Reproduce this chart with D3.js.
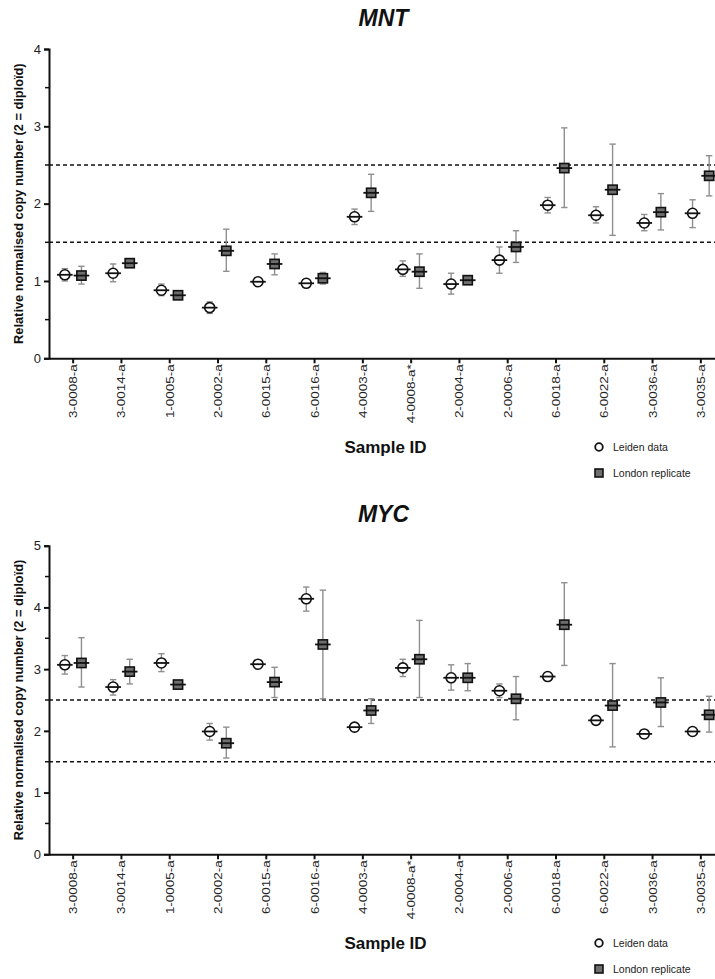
<!DOCTYPE html>
<html>
<head>
<meta charset="utf-8">
<script src="https://cdn.jsdelivr.net/npm/d3@7"></script>
<style>
  html, body { margin: 0; padding: 0; background: #fff; }
  svg { display: block; font-family: "Liberation Sans", Arial, sans-serif; }
</style>
</head>
<body>
<svg id="chart" width="715" height="979"></svg>
<script>
// ---------- DATA ----------
const categories = ["3-0008-a","3-0014-a","1-0005-a","2-0002-a","6-0015-a","6-0016-a","4-0003-a","4-0008-a*","2-0004-a","2-0006-a","6-0018-a","6-0022-a","3-0036-a","3-0035-a"];

// MNT
const mntLeidenMean = [1.08,1.10,0.88,0.655,0.99,0.97,1.83,1.15,0.96,1.27,1.98,1.85,1.75,1.875];
const mntLeidenLow  = [1.00,0.99,0.81,0.58,0.96,0.94,1.73,1.06,0.83,1.10,1.88,1.75,1.65,1.69];
const mntLeidenHigh = [1.16,1.22,0.96,0.73,1.02,1.00,1.93,1.26,1.10,1.44,2.08,1.96,1.86,2.05];
const mntLondonMean = [1.07,1.23,0.815,1.39,1.22,1.035,2.14,1.12,1.01,1.44,2.46,2.18,1.89,2.36];
const mntLondonLow  = [0.96,1.20,0.79,1.125,1.08,0.96,1.90,0.905,0.96,1.24,1.95,1.59,1.66,2.10];
const mntLondonHigh = [1.19,1.27,0.84,1.67,1.35,1.11,2.38,1.35,1.06,1.65,2.98,2.77,2.13,2.62];

// MYC
const mycLeidenMean = [3.07,2.71,3.10,1.99,3.08,4.14,2.06,3.02,2.86,2.65,2.88,2.17,1.95,1.99];
const mycLeidenLow  = [2.92,2.58,2.96,1.85,3.03,3.94,2.02,2.88,2.66,2.54,2.84,2.14,1.93,1.96];
const mycLeidenHigh = [3.22,2.83,3.25,2.12,3.13,4.33,2.10,3.16,3.07,2.76,2.92,2.20,1.97,2.02];
const mycLondonMean = [3.10,2.96,2.75,1.80,2.79,3.40,2.33,3.16,2.86,2.52,3.72,2.41,2.46,2.26];
const mycLondonLow  = [2.71,2.76,2.71,1.56,2.54,2.52,2.12,2.54,2.65,2.18,3.06,1.74,2.07,1.98];
const mycLondonHigh = [3.51,3.16,2.79,2.06,3.03,4.28,2.52,3.79,3.09,2.88,4.40,3.09,2.86,2.56];

const thresholds = [2.5, 1.5];
const mntYTicks = [0,1,2,3,4];
const mycYTicks = [0,1,2,3,4,5];
const yLabel = "Relative normalised copy number (2 = diploïd)";
const xLabel = "Sample ID";
const legendLabels = ["Leiden data", "London replicate"];

// ---------- DRAW ----------
const svg = d3.select("#chart");

function panel(opts) {
  const { title, yMax, yTicks, top, bottom, leiden, london, titleY, legendY } = opts;
  const left = 49, rightRange = 725;
  const g = svg.append("g");

  const x = d3.scaleBand().domain(categories).range([left, rightRange]).padding(0);
  const y = d3.scaleLinear().domain([0, yMax]).range([bottom, top]);
  const cx = c => x(c) + x.bandwidth() / 2;
  const off = 8.3;

  g.append("text").attr("x", 383.5).attr("y", titleY)
    .attr("text-anchor", "middle").attr("font-size", 23).attr("font-weight", "bold")
    .attr("font-style", "italic").attr("fill", "#111").text(title);

  g.selectAll(".thr").data(thresholds).enter().append("line")
    .attr("x1", left).attr("x2", 715)
    .attr("y1", d => y(d)).attr("y2", d => y(d))
    .attr("stroke", "#111").attr("stroke-width", 1.6).attr("stroke-dasharray", "4,3");

  const yAxis = d3.axisLeft(y).tickValues(yTicks).tickFormat(d3.format("d")).tickSize(5).tickPadding(3);
  const ya = g.append("g").attr("transform", `translate(${left},0)`).call(yAxis);
  ya.select(".domain").attr("stroke", "#111").attr("stroke-width", 2);
  ya.selectAll(".tick line").attr("stroke", "#111").attr("stroke-width", 2);
  ya.selectAll(".tick text").attr("font-size", 13).attr("fill", "#222")
    .attr("font-family", "Liberation Sans, Arial, sans-serif");
  const minor = d3.range(0.5, yMax, 1);
  g.selectAll(".minor").data(minor).enter().append("line")
    .attr("x1", left - 4).attr("x2", left)
    .attr("y1", d => y(d)).attr("y2", d => y(d))
    .attr("stroke", "#111").attr("stroke-width", 1.5);

  const xAxis = d3.axisBottom(x).tickSize(5).tickSizeOuter(0).tickFormat("");
  const xa = g.append("g").attr("transform", `translate(0,${bottom})`).call(xAxis);
  xa.select(".domain").attr("stroke", "#111").attr("stroke-width", 2);
  xa.selectAll(".tick line").attr("stroke", "#111").attr("stroke-width", 2);
  g.selectAll(".xl").data(categories).enter().append("text")
    .attr("transform", d => `translate(${cx(d)},${bottom + 6}) rotate(-90) scale(1.17,1)`)
    .attr("text-anchor", "end").attr("dy", "0.35em")
    .attr("font-size", 11.5).attr("fill", "#222").text(d => d);

  g.append("text")
    .attr("transform", `translate(19,${(top + bottom) / 2}) rotate(-90)`)
    .attr("text-anchor", "middle").attr("dy", "0.35em")
    .attr("font-size", 12.8).attr("font-weight", "bold").attr("fill", "#111").text(yLabel);

  g.append("text").attr("x", 385.5).attr("y", legendY).attr("dy", "0.35em")
    .attr("text-anchor", "middle").attr("font-size", 17).attr("font-weight", "bold")
    .attr("fill", "#111").text(xLabel);

  const series = [
    { d: leiden, dx: -off, kind: "circle" },
    { d: london, dx: off, kind: "square" }
  ];
  series.forEach(s => {
    const rows = categories.map((c, i) => ({ c, m: s.d.mean[i], lo: s.d.low[i], hi: s.d.high[i] }));
    const sg = g.append("g");
    const px = r => cx(r.c) + s.dx;
    sg.selectAll(".eb").data(rows).enter().append("line")
      .attr("x1", px).attr("x2", px)
      .attr("y1", r => y(r.lo)).attr("y2", r => y(r.hi))
      .attr("stroke", "#8f8f8f").attr("stroke-width", 1.4);
    ["lo", "hi"].forEach(k => {
      sg.selectAll(".cap" + k).data(rows).enter().append("line")
        .attr("x1", r => px(r) - 3.2).attr("x2", r => px(r) + 3.2)
        .attr("y1", r => y(r[k])).attr("y2", r => y(r[k]))
        .attr("stroke", "#8f8f8f").attr("stroke-width", 1.4);
    });
    if (s.kind === "circle") {
      sg.selectAll(".mk").data(rows).enter().append("circle")
        .attr("cx", px).attr("cy", r => y(r.m)).attr("r", 5)
        .attr("fill", "#fff").attr("stroke", "#111").attr("stroke-width", 1.6);
    } else {
      sg.selectAll(".mk").data(rows).enter().append("rect")
        .attr("x", r => px(r) - 4.6).attr("y", r => y(r.m) - 4.6)
        .attr("width", 9.2).attr("height", 9.2)
        .attr("fill", "#6e6e6e").attr("stroke", "#111").attr("stroke-width", 1.6);
    }
    sg.selectAll(".ml").data(rows).enter().append("line")
      .attr("x1", r => px(r) - 7.8).attr("x2", r => px(r) + 7.8)
      .attr("y1", r => y(r.m)).attr("y2", r => y(r.m))
      .attr("stroke", "#111").attr("stroke-width", 1.8);
  });

  const lg = g.append("g");
  lg.append("circle").attr("cx", 599).attr("cy", legendY).attr("r", 3.8)
    .attr("fill", "#fff").attr("stroke", "#111").attr("stroke-width", 1.8);
  lg.append("rect").attr("x", 595).attr("y", legendY + 26 - 4).attr("width", 8).attr("height", 8)
    .attr("fill", "#6e6e6e").attr("stroke", "#111").attr("stroke-width", 1.6);
  lg.selectAll(".lt").data(legendLabels).enter().append("text")
    .attr("x", 613).attr("y", (d, i) => legendY + i * 26).attr("dy", "0.35em")
    .attr("font-size", 10.5).attr("fill", "#222").text(d => d);
}

panel({
  title: "MNT", yMax: 4, yTicks: mntYTicks, top: 49, bottom: 358.3, titleY: 26, legendY: 447,
  leiden: { mean: mntLeidenMean, low: mntLeidenLow, high: mntLeidenHigh },
  london: { mean: mntLondonMean, low: mntLondonLow, high: mntLondonHigh }
});
panel({
  title: "MYC", yMax: 5, yTicks: mycYTicks, top: 545.7, bottom: 854.3, titleY: 522, legendY: 943,
  leiden: { mean: mycLeidenMean, low: mycLeidenLow, high: mycLeidenHigh },
  london: { mean: mycLondonMean, low: mycLondonLow, high: mycLondonHigh }
});
</script>
</body>
</html>
